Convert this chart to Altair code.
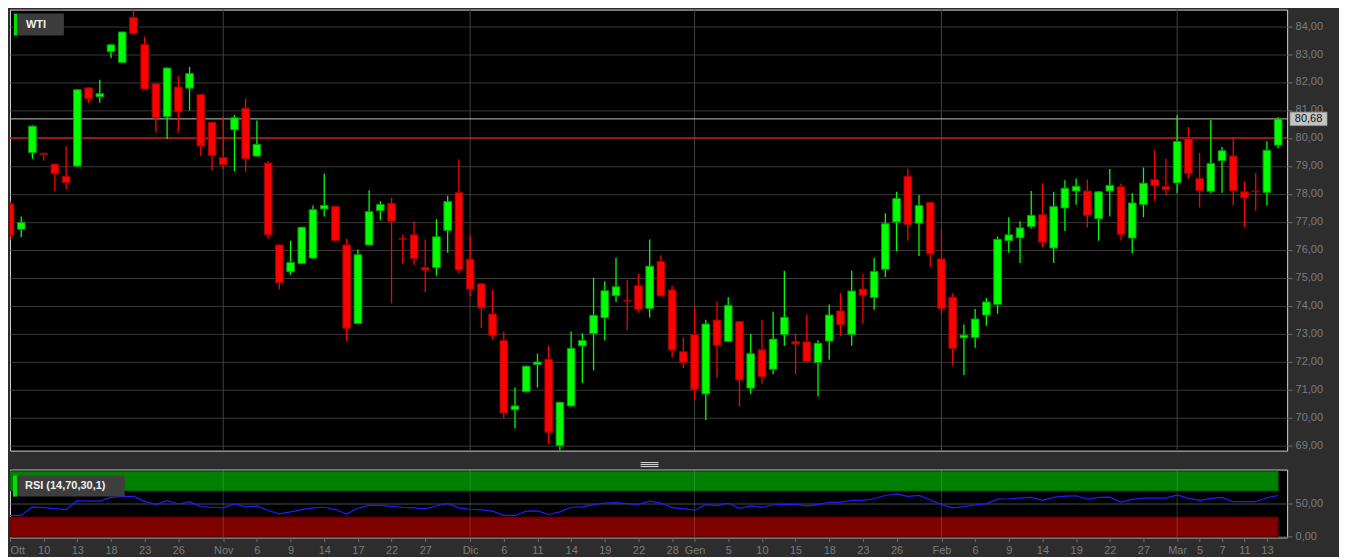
import altair as alt
import pandas as pd

# ---------------- data ----------------
idx = list(range(-1, 113))
opens = [77.64, 76.73, 79.47, 79.45, 79.06, 78.63, 78.99, 81.79, 81.47, 83.09,
         82.70, 84.31, 83.35, 81.94, 80.76, 81.82, 81.78, 81.55, 80.56, 79.30,
         80.29, 81.06, 79.35, 79.10, 76.17, 75.21, 75.51, 75.70, 77.46, 77.55,
         76.17, 73.36, 76.17, 77.40, 77.66, 76.39, 76.53, 75.36, 75.36, 76.69,
         78.05, 75.66, 74.78, 73.70, 72.75, 70.27, 70.92, 71.89, 72.08, 68.99,
         70.41, 72.56, 73.00, 73.57, 74.36, 74.18, 74.71, 73.90, 75.58, 74.56,
         72.35, 72.96, 70.84, 73.48, 72.72, 73.43, 71.05, 72.42, 71.72, 72.96,
         72.71, 72.70, 71.96, 72.73, 73.81, 72.97, 74.59, 74.29, 75.30, 76.99,
         78.63, 76.95, 77.69, 75.67, 74.30, 72.85, 72.86, 73.66, 74.04, 76.32,
         76.43, 76.83, 77.25, 76.06, 77.49, 78.10, 78.10, 77.11, 78.10, 78.25,
         76.42, 77.62, 78.51, 78.26, 78.39, 79.97, 78.55, 78.09, 79.18, 79.35,
         78.07, 78.10, 78.05, 79.74]
highs = [77.75, 77.19, 80.45, 79.47, 79.08, 79.70, 81.75, 81.80, 82.08, 83.35,
         83.80, 84.58, 83.62, 81.95, 82.52, 82.21, 82.54, 81.57, 80.58, 80.77,
         80.83, 81.41, 80.62, 79.16, 76.19, 76.32, 76.82, 77.58, 78.73, 77.57,
         76.39, 76.01, 78.13, 77.73, 77.86, 76.53, 77.02, 76.36, 77.09, 77.93,
         79.23, 76.50, 74.80, 74.56, 73.07, 71.07, 71.85, 72.28, 72.56, 70.56,
         73.07, 73.01, 75.00, 74.87, 75.70, 74.91, 75.14, 76.36, 75.80, 74.70,
         72.87, 73.94, 73.49, 74.15, 74.30, 73.45, 72.98, 73.49, 73.78, 75.25,
         72.99, 73.69, 72.76, 74.04, 74.44, 75.25, 75.12, 75.70, 77.30, 78.07,
         78.90, 77.96, 77.71, 76.73, 74.44, 73.32, 73.88, 74.27, 76.47, 77.16,
         77.02, 78.10, 78.38, 78.07, 78.48, 78.55, 78.51, 78.10, 78.89, 78.37,
         78.02, 78.94, 79.56, 79.25, 80.81, 80.39, 79.46, 80.64, 79.67, 80.00,
         78.45, 78.74, 79.88, 80.75]
lows = [76.35, 76.45, 79.25, 79.18, 78.09, 78.16, 78.95, 81.26, 81.26, 82.86,
        82.68, 83.71, 81.73, 80.19, 79.96, 80.19, 80.98, 79.35, 78.83, 78.89,
        78.80, 78.80, 79.33, 76.39, 74.58, 75.10, 75.49, 75.68, 77.19, 76.30,
        72.73, 73.34, 76.15, 77.05, 74.07, 75.49, 75.45, 74.48, 75.07, 75.89,
        75.14, 74.33, 73.20, 72.79, 69.97, 69.60, 70.90, 71.07, 69.04, 68.81,
        70.39, 71.24, 71.68, 72.76, 74.13, 73.13, 73.75, 73.57, 74.33, 72.14,
        71.77, 70.61, 69.91, 71.42, 72.70, 70.38, 70.84, 71.21, 71.54, 72.56,
        71.54, 71.98, 70.75, 72.06, 72.91, 72.56, 73.36, 73.85, 75.02, 75.94,
        76.33, 75.77, 75.39, 73.69, 71.86, 71.52, 72.49, 73.28, 73.71, 75.89,
        75.52, 76.76, 76.10, 75.52, 76.67, 77.61, 76.79, 76.32, 77.19, 76.33,
        75.87, 77.16, 77.74, 77.93, 78.02, 78.54, 77.51, 78.02, 78.04, 77.58,
        76.81, 77.38, 77.57, 79.63]
closes = [76.50, 76.97, 80.42, 79.41, 78.72, 78.40, 81.72, 81.41, 81.58, 83.33,
          83.79, 83.73, 81.75, 80.72, 82.50, 80.93, 82.30, 79.71, 79.37, 79.04,
          80.72, 79.26, 79.77, 76.53, 74.82, 75.54, 76.80, 77.43, 77.58, 76.32,
          73.19, 75.82, 77.36, 77.62, 77.02, 76.37, 75.68, 75.27, 76.46, 77.72,
          75.28, 74.59, 73.92, 72.92, 70.16, 70.41, 71.83, 71.98, 69.47, 70.54,
          72.47, 72.75, 73.65, 74.53, 74.67, 74.16, 73.86, 75.41, 74.35, 72.41,
          71.95, 71.00, 73.34, 72.58, 74.01, 71.34, 72.28, 71.45, 72.80, 73.58,
          72.63, 72.00, 72.65, 73.66, 73.32, 74.52, 74.37, 75.22, 76.93, 77.83,
          76.90, 77.58, 75.85, 73.90, 72.47, 72.94, 73.52, 74.13, 76.37, 76.53,
          76.78, 77.23, 76.27, 77.54, 78.20, 78.27, 77.23, 78.07, 78.30, 76.55,
          77.67, 78.38, 78.30, 78.15, 79.87, 78.73, 78.12, 79.08, 79.54, 78.11,
          77.86, 78.08, 79.56, 80.68]
rsi = [32.5, 32.5, 45.5, 44.5, 43.0, 41.5, 55.0, 54.5, 54.5, 60.0,
       61.5, 61.5, 54.0, 49.5, 55.0, 50.0, 53.5, 46.0, 45.0, 44.0,
       50.0, 45.5, 47.0, 40.0, 35.0, 38.0, 41.5, 44.0, 45.0, 41.5,
       34.5, 43.5, 48.0, 48.0, 46.5, 45.0, 44.0, 42.5, 47.0, 51.0,
       44.0, 42.0, 41.0, 39.0, 32.5, 32.5, 39.0, 39.5, 34.0, 38.0,
       45.0, 45.5, 49.0, 51.5, 52.0, 50.5, 49.5, 54.5, 51.5, 44.5,
       43.0, 40.5, 49.0, 47.5, 51.5, 43.5, 47.0, 45.0, 48.5, 49.5,
       49.0, 47.0, 49.0, 53.0, 52.5, 55.5, 55.5, 58.0, 63.0, 65.5,
       61.5, 63.0, 56.5, 49.0, 44.0, 46.0, 48.5, 50.5, 57.5, 58.0,
       59.0, 60.0, 55.5, 60.0, 62.0, 62.5, 57.5, 60.0, 60.5, 53.0,
       57.0, 59.0, 59.0, 59.0, 64.0, 58.5, 55.5, 58.5, 60.0, 53.5,
       53.5, 53.5, 59.5, 63.0]

tick_idx = [-1, 2, 5, 8, 11, 14, 18, 21, 24, 27, 30, 33, 36, 40, 43, 46, 49, 52,
            55, 58, 60, 63, 66, 69, 72, 75, 78, 82, 85, 88, 91, 94, 97, 100, 103,
            105, 107, 109, 111]
tick_lab = ["Ott", "10", "13", "18", "23", "26", "Nov", "6", "9", "14", "17", "22",
            "27", "Dic", "6", "11", "14", "19", "22", "28", "Gen", "5", "10", "15",
            "18", "23", "26", "Feb", "6", "9", "14", "19", "22", "27", "Mar", "5",
            "7", "11", "13"]
month_idx = [18, 40, 60, 82, 103]
price_ticks = list(range(69, 85))
rsi_ticks = [0, 50]
rsi_bounds = [0, 30, 70, 100]
ref_level = [80.0]
title_main = "WTI"
title_rsi = "RSI (14,70,30,1)"

assert len(idx) == len(opens) == len(highs) == len(lows) == len(closes) == len(rsi)

df = pd.DataFrame({"i": idx, "o": opens, "h": highs, "l": lows, "c": closes, "rsi": rsi})
df["dir"] = ["up" if c >= o else "down" for o, c in zip(opens, closes)]

# ---------------- scales / axes ----------------
FONT = "Liberation Sans"
XDOM = [-1, 112.8]
xscale = alt.Scale(domain=XDOM, nice=False, zero=False)
yscale = alt.Scale(domain=[68.81, 84.59], nice=False, zero=False)
rscale = alt.Scale(domain=[-1, 102.5], nice=False, zero=False)
comma = "replace(format(datum.value, '.2f'), '.', ',')"

yaxis = alt.Axis(orient="right", values=price_ticks, labelExpr=comma, grid=True,
                 gridColor="#3a3a3a", gridWidth=1, tickColor="#6e6e6e", tickSize=5,
                 labelPadding=3, labelColor="#7c7c7c", labelFontSize=11, labelFont=FONT,
                 domain=False, minExtent=51, title=None)
raxis = alt.Axis(orient="right", values=rsi_ticks, labelExpr=comma, grid=True,
                 gridColor="#4a4a4a", tickColor="#6e6e6e", tickSize=5, labelPadding=3,
                 labelColor="#7c7c7c", labelFontSize=11, labelFont=FONT, domain=False,
                 minExtent=51, title=None)
labels_js = "[" + ",".join("'%s'" % s for s in tick_lab) + "]"
idx_js = "[" + ",".join(str(v) for v in tick_idx) + "]"
xaxis = alt.Axis(values=tick_idx, labelExpr=f"{labels_js}[indexof({idx_js}, datum.value)]",
                 grid=False, domain=False, tickColor="#6e6e6e", tickSize=4,
                 labelPadding=3, labelColor="#7c7c7c", labelFontSize=11, labelFont=FONT,
                 labelFlush=True, labelOverlap=False, title=None)

def XM(f):
    return alt.X(f, type="quantitative", scale=xscale, axis=None)

def YM(f):
    return alt.Y(f, type="quantitative", scale=yscale, axis=yaxis)

color = alt.Color("dir:N", scale=alt.Scale(domain=["up", "down"], range=["#00ff00", "#ff0000"]), legend=None)
stroke = alt.Stroke("dir:N", scale=alt.Scale(domain=["up", "down"], range=["#0a9a0a", "#a00000"]), legend=None)

# ---------------- main (price) panel ----------------
months_m = alt.Chart(pd.DataFrame({"m": month_idx})).mark_rule(color="#424242", strokeWidth=1).encode(x=XM("m"))
ref_line = alt.Chart(pd.DataFrame({"v": ref_level})).mark_rule(color="#ff0a0a", strokeWidth=1.4).encode(y=YM("v"))
last_df = df.tail(1)
last_line = alt.Chart(last_df).mark_rule(color="#c4c4c4", strokeWidth=1).encode(y=YM("c"))
wicks = alt.Chart(df).mark_rule(strokeWidth=1.3, clip=True).encode(x=XM("i"), y=YM("l"), y2="h", color=color)
bodies = alt.Chart(df).transform_calculate(
    x0="datum.i - 0.34", x1="datum.i + 0.34"
).mark_rect(strokeWidth=1, clip=True).encode(x=XM("x0"), x2="x1", y=YM("o"), y2="c", color=color, stroke=stroke)

price_box = alt.Chart(last_df).transform_calculate(
    lo="datum.c - 0.24", hi="datum.c + 0.24"
).mark_rect(color="#c4c4c4", stroke="#9a9a9a", strokeWidth=0.8, clip=False).encode(
    x=alt.value(1283), x2=alt.value(1320), y=YM("lo"), y2="hi")
price_txt = alt.Chart(last_df).transform_calculate(
    lab="replace(format(datum.c, '.2f'), '.', ',')"
).mark_text(color="#111111", font=FONT, fontSize=11, align="center", baseline="middle", clip=False).encode(
    x=alt.value(1301.5), y=YM("c"), text="lab:N")

one = pd.DataFrame({"t": [title_main]})
wti_box = alt.Chart(one).mark_rect(color="#3c3c3c").encode(x=alt.value(7), x2=alt.value(54), y=alt.value(4), y2=alt.value(26))
wti_bar = alt.Chart(one).mark_rect(color="#00e000").encode(x=alt.value(4), x2=alt.value(7), y=alt.value(4), y2=alt.value(26))
wti_txt = alt.Chart(one).mark_text(color="#f0f0f0", font=FONT, fontSize=11, fontWeight="bold",
                                   align="left", baseline="middle").encode(x=alt.value(16), y=alt.value(15.5), text="t:N")

main = alt.layer(months_m, ref_line, last_line, wicks, bodies, price_box, price_txt,
                 wti_box, wti_bar, wti_txt).properties(width=1280, height=442)

# ---------------- RSI panel ----------------
def XR(f):
    return alt.X(f, type="quantitative", scale=xscale, axis=xaxis)

def YR(f):
    return alt.Y(f, type="quantitative", scale=rscale, axis=raxis)

ob_df = pd.DataFrame({"lo": [rsi_bounds[2]], "hi": [rsi_bounds[3]], "x0": [idx[0]], "x1": [idx[-1]]})
os_df = pd.DataFrame({"lo": [rsi_bounds[0]], "hi": [rsi_bounds[1]], "x0": [idx[0]], "x1": [idx[-1]]})
band_ob = alt.Chart(ob_df).mark_rect(color="#008000", stroke="#005800", strokeWidth=1).encode(
    x=XR("x0"), x2="x1", y=YR("lo"), y2="hi")
band_os = alt.Chart(os_df).mark_rect(color="#800000", stroke="#560000", strokeWidth=1).encode(
    x=XR("x0"), x2="x1", y=YR("lo"), y2="hi")
months_r = alt.Chart(pd.DataFrame({"m": month_idx})).mark_rule(color="#a0a0a0", opacity=0.3, strokeWidth=1).encode(x=XR("m"))
rsi_line = alt.Chart(df).mark_line(color="#1e1eff", strokeWidth=1.2, clip=True).encode(x=XR("i"), y=YR("rsi"))

one_r = pd.DataFrame({"t": [title_rsi]})
rsi_box = alt.Chart(one_r).mark_rect(color="#3e3e3e").encode(x=alt.value(3), x2=alt.value(115), y=alt.value(6), y2=alt.value(27))
rsi_bar = alt.Chart(one_r).mark_rect(color="#00e000").encode(x=alt.value(3), x2=alt.value(7), y=alt.value(6), y2=alt.value(27))
rsi_txt = alt.Chart(one_r).mark_text(color="#f0f0f0", font=FONT, fontSize=11, fontWeight="bold",
                                     align="left", baseline="middle").encode(x=alt.value(15), y=alt.value(16.5), text="t:N")
handle = [alt.Chart(one_r).mark_rule(color="#e0e0e0", strokeWidth=1, clip=False).encode(
    x=alt.value(632), x2=alt.value(650), y=alt.value(dy)) for dy in (-7, -5, -3)]

rsi_panel = alt.layer(band_ob, band_os, months_r, rsi_line, rsi_box, rsi_bar, rsi_txt, *handle).properties(width=1280, height=68)

chart = alt.vconcat(main, rsi_panel, spacing=10).resolve_scale(x="independent").properties(
    padding=0, background="#2d2d2d"
).configure_view(stroke="#cfcfd6", strokeWidth=1, fill="#000000")

chart.save("out.html", embed_options={"renderer": "svg", "actions": False})
